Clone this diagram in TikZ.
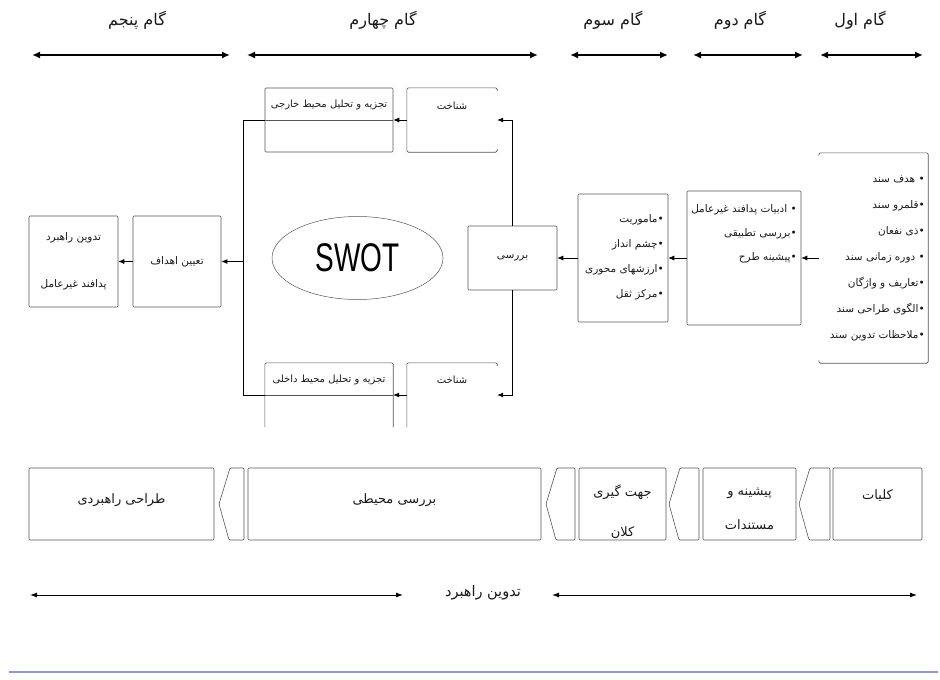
\documentclass[tikz,border=0pt]{standalone}
\usepackage{fontspec}
\setsansfont{Liberation Sans}
\newfontfamily\farsifont[Script=Arabic]{DejaVu Sans}
\usetikzlibrary{arrows.meta,shapes.geometric}
\TeXXeTstate=1
\definecolor{linegray}{HTML}{555555}
\definecolor{textdark}{HTML}{1A1A1A}
\definecolor{rulelav}{HTML}{9098D0}
\newcommand{\fatxt}[1]{{\farsifont\beginR #1\endR}}

\tikzset{
  box/.style={draw=linegray, line width=0.6pt, rounded corners=1pt, inner sep=2pt,
    text=textdark, font=\fontsize{10.5}{13}\selectfont},
  frame/.style={inner sep=0pt},
  edge/.style={draw=linegray, line width=0.6pt, rounded corners=1.5pt},
  boxtext/.style={inner sep=1pt, text=textdark, font=\fontsize{10}{13}\selectfont},
  phasetext/.style={inner sep=1pt, align=center, text=textdark, font=\fontsize{13}{15}\selectfont},
  listtext/.style={inner sep=1pt, align=right, text=textdark},
  conn/.style={draw=black, line width=0.7pt},
  arr/.style={conn, -{Latex[length=6pt,width=5pt]}},
  spanarrow/.style={line width=2pt, {Latex[length=8pt,width=7pt]}-{Latex[length=8pt,width=7pt]}},
  timearrow/.style={line width=0.9pt, {Latex[length=7pt,width=5pt]}-{Latex[length=7pt,width=5pt]}},
  steplabel/.style={inner sep=1pt, text=textdark, font=\fontsize{16}{18}\selectfont},
  chevron/.style={draw=linegray, line width=0.6pt, rounded corners=1pt}
}

\begin{document}
\begin{tikzpicture}[x=1pt, y=-1pt]
    \useasboundingbox (0,0) rectangle (940,680);

    % steps on top
    \node[steplabel] (g5) at (137,20) {\fatxt{گام پنجم}};
    \node[steplabel] (g4) at (383,20) {\fatxt{گام چهارم}};
    \node[steplabel] (g3) at (613,20) {\fatxt{گام سوم}};
    \node[steplabel] (g2) at (740,20) {\fatxt{گام دوم}};
    \node[steplabel] (g1) at (860,20) {\fatxt{گام اول}};

    \coordinate (g5l) at (32,55);  \coordinate (g5r) at (230,55);
    \coordinate (g4l) at (247,55); \coordinate (g4r) at (538,55);
    \coordinate (g3l) at (570,55); \coordinate (g3r) at (668,55);
    \coordinate (g2l) at (693,55); \coordinate (g2r) at (803,55);
    \coordinate (g1l) at (820,55); \coordinate (g1r) at (923,55);
    \draw[spanarrow] (g5l) -- (g5r);
    \draw[spanarrow] (g4l) -- (g4r);
    \draw[spanarrow] (g3l) -- (g3r);
    \draw[spanarrow] (g2l) -- (g2r);
    \draw[spanarrow] (g1l) -- (g1r);

    % step five
    \node[box, minimum width=89pt, minimum height=91pt, align=center] (strat) at (73.5,261.5)
        {\fatxt{تدوین راهبرد}\\[34pt]\fatxt{پدافند غیرعامل}};
    \node[box, minimum width=88pt, minimum height=91pt] (goal) at (177,261.5) {\fatxt{تعیین اهداف}};

    % step four
    \node[ellipse, draw=linegray, line width=0.5pt, minimum width=171pt, minimum height=83pt, inner sep=0pt]
        (swot) at (357.5,258) {\scalebox{0.7}[1]{\fontsize{40}{40}\selectfont\sffamily SWOT}};

    \node[box, minimum width=128pt, minimum height=64pt] (ext) at (329,120) {};
    \draw[conn, draw=linegray, line width=0.6pt] (ext.west) -- (ext.east);
    \node[boxtext] (ext-t) at (329,105) {\fatxt{تجزیه و تحلیل محیط خارجی}};

    \node[frame, minimum width=90pt, minimum height=64pt] (extk) at (452,120) {};
    \draw[edge] ([yshift=-3pt]extk.north east) -- (extk.north east) -- (extk.north west)
        -- (extk.south west) -- (extk.south east) -- ([yshift=3pt]extk.south east);
    \node[boxtext] (extk-t) at (452,106) {\fatxt{شناخت}};

    \node[frame, minimum width=128pt, minimum height=64pt] (int) at (329,395) {};
    \draw[edge] (int.south west) -- (int.north west) -- (int.north east) -- (int.south east);
    \draw[conn, draw=linegray, line width=0.6pt] (int.west) -- (int.east);
    \node[boxtext] (int-t) at (329,380) {\fatxt{تجزیه و تحلیل محیط داخلی}};

    \node[frame, minimum width=90pt, minimum height=64pt] (intk) at (452,395) {};
    \draw[edge] ([yshift=-3pt]intk.north east) -- (intk.north east) -- (intk.north west) -- (intk.south west);
    \node[boxtext] (intk-t) at (452,380) {\fatxt{شناخت}};

    \node[box, minimum width=89pt, minimum height=64pt] (rev) at (512.5,258) {\fatxt{بررسی}};

    % step three
    \node[box, minimum width=90pt, minimum height=128pt] (s3) at (623,258) {};
    \node[listtext, anchor=east, font=\fontsize{10.5}{25}\selectfont] (s3-t) at (665,257)
        {\fatxt{•ماموریت}\\ \fatxt{•چشم انداز}\\ \fatxt{•ارزشهای محوری}\\ \fatxt{•مرکز ثقل}};

    % step two
    \node[box, minimum width=114pt, minimum height=134pt] (s2) at (744,258) {};
    \node[listtext, anchor=east, font=\fontsize{10.5}{24}\selectfont] (s2-t) at (798,234)
        {\fatxt{• ادبیات پدافند غیرعامل}\\ \fatxt{•بررسی تطبیقی}\\ \fatxt{•پیشینه طرح}};

    % step one
    \node[frame, minimum width=109pt, minimum height=210pt] (s1) at (873.5,258) {};
    \draw[edge] ([yshift=-3pt]s1.north west) -- (s1.north west) -- (s1.north east)
        -- (s1.south east) -- (s1.south west) -- ([yshift=3pt]s1.south west);
    \node[listtext, anchor=east, font=\fontsize{10.5}{26}\selectfont] (s1-t) at (926,258)
        {\fatxt{• هدف سند}\\ \fatxt{•قلمرو سند}\\ \fatxt{•ذی نفعان}\\ \fatxt{• دوره زمانی سند}\\
         \fatxt{•تعاریف و واژگان}\\ \fatxt{•الگوی طراحی سند}\\ \fatxt{•ملاحظات تدوین سند}};

    % connectors
    \coordinate (jtop) at (243,120);
    \coordinate (jmid) at (243,261.5);
    \coordinate (jbot) at (243,395);
    \draw[conn] (ext.west) -- (jtop) -- (jbot) -- (int.west);
    \draw[arr, line width=1pt] (jmid) -- (goal.east);
    \draw[arr] (goal.west) -- (strat.east);
    \draw[arr] (extk.west) -- (ext.east);
    \draw[arr] (intk.west) -- (int.east);
    \draw[arr] (rev.north) |- (extk.east);
    \draw[arr] (rev.south) |- (intk.east);
    \draw[arr] (s3.west) -- (rev.east);
    \draw[arr] (s2.west) -- (s3.east);
    \draw[arr] (s1.west) -- (s2.east);

    % phases below
    \node[box, minimum width=185pt, minimum height=72pt] (b5) at (121.5,504) {};
    \node[box, minimum width=293pt, minimum height=72pt] (b4) at (394.5,504) {};
    \node[box, minimum width=87pt, minimum height=72pt] (b3) at (622.5,504) {};
    \node[box, minimum width=93pt, minimum height=72pt] (b2) at (749.5,504) {};
    \node[box, minimum width=89pt, minimum height=72pt] (b1) at (877.5,504) {};
    \node[phasetext] (b5-t) at (121.5,500) {\fatxt{طراحی راهبردی}};
    \node[phasetext] (b4-t) at (394.5,500) {\fatxt{بررسی محیطی}};
    \node[phasetext] (b3-t) at (622.5,512) {\fatxt{جهت گیری}\\[25pt]\fatxt{کلان}};
    \node[phasetext] (b2-t) at (749.5,509) {\fatxt{پیشینه و}\\[19pt]\fatxt{مستندات}};
    \node[phasetext] (b1-t) at (877.5,496) {\fatxt{کلیات}};

    \draw[chevron] (230,468) -- (244,468) -- (244,540) -- (229,540) -- (219,504) -- cycle;
    \draw[chevron] (557,468) -- (575,468) -- (575,540) -- (556,540) -- (546,504) -- cycle;
    \draw[chevron] (680,468) -- (699,468) -- (699,540) -- (679,540) -- (669,504) -- cycle;
    \draw[chevron] (810,468) -- (830,468) -- (830,540) -- (809,540) -- (799,504) -- cycle;

    % timeline
    \node[phasetext, font=\fontsize{14.5}{16}\selectfont] (tl) at (483,593) {\fatxt{تدوین راهبرد}};
    \coordinate (tl1) at (30,595);  \coordinate (tl2) at (403,595);
    \coordinate (tl3) at (552,595); \coordinate (tl4) at (917,595);
    \draw[timearrow] (tl1) -- (tl2);
    \draw[timearrow] (tl3) -- (tl4);

    \draw[rulelav, line width=2pt] (9,672) -- (938,672);
\end{tikzpicture}
\end{document}
